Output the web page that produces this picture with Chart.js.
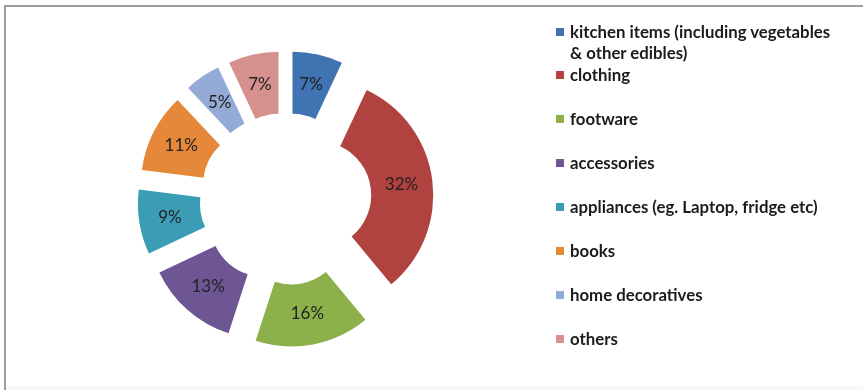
<!DOCTYPE html>
<html>
<head>
<meta charset="utf-8">
<script src="https://cdn.jsdelivr.net/npm/chart.js@4/dist/chart.umd.min.js"></script>
<style>
	body { margin: 0; background: #fff; }
	#frame {
		position: absolute; left: 4px; top: 5px; width: 859px; height: 385px;
		border-top: 2px solid #9d9d9d; border-left: 2px solid #9d9d9d;
		box-sizing: border-box;
	}
	#wrap { position: absolute; left: 0; top: 0; width: 863px; height: 390px; }
	#legend {
		position: absolute; left: 556px; top: 0; width: 300px;
		font-family: Lato, sans-serif; font-size: 16.8px; font-weight: bold; color: #1b1b1b;
	}
	.item { position: absolute; left: 0; line-height: 21px; white-space: nowrap; }
	.box { position: absolute; left: 0; top: 7px; width: 8px; height: 8px; }
	.text { position: absolute; left: 14px; top: 0; }
	.bottom { position: absolute; left: 6px; right: 0; bottom: 0; height: 4px; background: #f5f9fc; }
</style>
</head>
<body>
<div id="frame"></div>
<div class="bottom"></div>
<div id="wrap"><canvas id="chart"></canvas></div>
<div id="legend"></div>
<script>
// === Data ===

const categories = [
	'kitchen items (including vegetables',
	'clothing',
	'footware',
	'accessories',
	'appliances (eg. Laptop, fridge etc)',
	'books',
	'home decoratives',
	'others'
];
const kitchenSecondLine = '& other edibles)';
const shares = [7, 32, 16, 13, 9, 11, 5, 7];
const colors = ['#3f73b2', '#b0433f', '#8cb04a', '#6e5594', '#3a9db5', '#e6883a', '#93abd6', '#d6918f'];

const EXPLODE = 32;


// === Exploded slices ===

// every slice is pushed out along its own bisector
const baseArcDraw = Chart.ArcElement.prototype.draw;
Chart.ArcElement.prototype.draw = function (ctx) {
	const mid = (this.startAngle + this.endAngle) / 2;
	ctx.save();
	ctx.translate(Math.cos(mid) * EXPLODE, Math.sin(mid) * EXPLODE);
	baseArcDraw.call(this, ctx);
	ctx.restore();
};

const percentLabels = {
	id: 'percentLabels',
	afterDatasetsDraw(chart) {
		const ctx = chart.ctx;
		const meta = chart.getDatasetMeta(0);
		ctx.save();
		ctx.font = '17px Lato, sans-serif';
		ctx.fillStyle = '#222';
		ctx.textAlign = 'center';
		ctx.textBaseline = 'middle';
		meta.data.forEach((arc, i) => {
			const mid = (arc.startAngle + arc.endAngle) / 2;
			const r = (arc.innerRadius + arc.outerRadius) / 2 + EXPLODE;
			ctx.fillText(shares[i] + '%', arc.x + Math.cos(mid) * r, arc.y + Math.sin(mid) * r);
		});
		ctx.restore();
	}
};

new Chart(document.getElementById('chart'), {
	type: 'doughnut',
	data: {
		labels: categories,
		datasets: [{
			data: shares,
			backgroundColor: colors,
			borderWidth: 0
		}]
	},
	options: {
		responsive: true,
		maintainAspectRatio: false,
		animation: false,
		radius: 116,
		cutout: '46.5%',
		layout: { padding: { left: 0, right: 292, top: 8, bottom: 0 } },
		plugins: {
			legend: { display: false },
			tooltip: { enabled: false }
		}
	},
	plugins: [percentLabels]
});


// === Legend ===

const legend = document.getElementById('legend');
categories.forEach((name, i) => {
	const item = document.createElement('div');
	item.className = 'item';
	item.style.top = (i === 0 ? 21 : 64 + 44 * (i - 1)) + 'px';
	const box = document.createElement('div');
	box.className = 'box';
	box.style.background = colors[i];
	const text = document.createElement('div');
	text.className = 'text';
	text.innerHTML = i === 0 ? name + '<br>' + kitchenSecondLine : name;
	item.appendChild(box);
	item.appendChild(text);
	legend.appendChild(item);
});
</script>
</body>
</html>
